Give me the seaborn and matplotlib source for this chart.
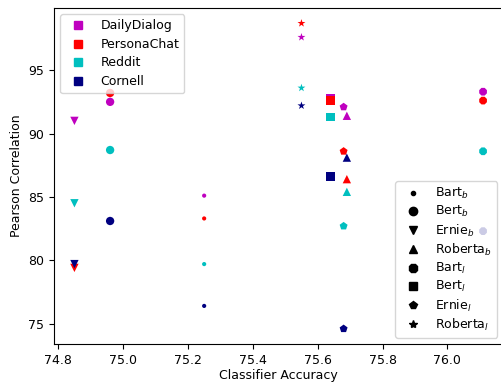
import pandas as pd
import matplotlib
matplotlib.use("Agg")
import matplotlib.pyplot as plt
import seaborn as sns
from matplotlib.lines import Line2D

plt.rcParams["font.size"] = 9

# classifier accuracy of each model
models = ["Bart_b", "Bert_b", "Ernie_b", "Roberta_b", "Bart_l", "Bert_l", "Ernie_l", "Roberta_l"]
model_labels = ["Bart$_b$", "Bert$_b$", "Ernie$_b$", "Roberta$_b$",
                "Bart$_l$", "Bert$_l$", "Ernie$_l$", "Roberta$_l$"]
accuracy = [75.25, 74.96, 74.85, 75.69, 76.11, 75.64, 75.68, 75.55]

# pearson correlation per dataset
datasets = ["DailyDialog", "PersonaChat", "Reddit", "Cornell"]
daily_dialog = [85.1, 92.5, 91.0, 91.4, 93.3, 92.8, 92.1, 97.6]
persona_chat = [83.3, 93.2, 79.4, 86.4, 92.6, 92.6, 88.6, 98.7]
reddit = [79.7, 88.7, 84.5, 85.4, 88.6, 91.3, 82.7, 93.6]
cornell = [76.4, 83.1, 79.7, 88.1, 82.3, 86.6, 74.6, 92.2]

colors = {"DailyDialog": "m", "PersonaChat": "r", "Reddit": "c", "Cornell": "navy"}
markers = {"Bart_b": ".", "Bert_b": "o", "Ernie_b": "v", "Roberta_b": "^",
           "Bart_l": "8", "Bert_l": "s", "Ernie_l": "p", "Roberta_l": "*"}

rows = []
for name, vals in zip(datasets, [daily_dialog, persona_chat, reddit, cornell]):
    for m, acc, v in zip(models, accuracy, vals):
        rows.append({"dataset": name, "model": m, "acc": acc, "corr": v})
df = pd.DataFrame(rows)

fig = plt.figure(figsize=(5.02, 3.83), dpi=100)
ax = fig.add_axes([54 / 502, 39 / 383, 449.5 / 502, 336 / 383])

sns.scatterplot(data=df, x="acc", y="corr", hue="dataset", style="model",
                palette=colors, markers=markers, s=36, edgecolor="face",
                linewidth=0, legend=False, ax=ax)

ax.set_xlabel("Classifier Accuracy", labelpad=2)
ax.set_ylabel("Pearson Correlation")

h1 = [Line2D([], [], marker="s", color=colors[d], linestyle="none") for d in datasets]
leg1 = ax.legend(h1, datasets, loc="upper left", labelspacing=0.45)
ax.add_artist(leg1)

h2 = [Line2D([], [], marker=markers[m], color="black", linestyle="none") for m in models]
ax.legend(h2, model_labels, loc="lower right", labelspacing=0.25)

plt.savefig("out.png", dpi=100)
